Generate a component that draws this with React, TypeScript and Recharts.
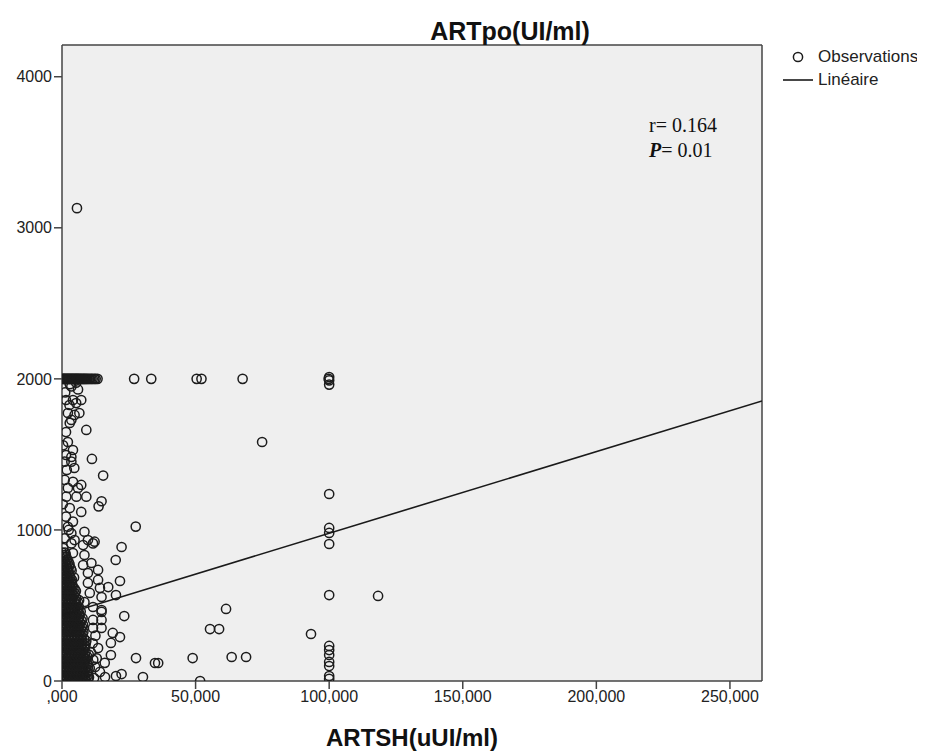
import { ScatterChart, Scatter, XAxis, YAxis, CartesianGrid, ReferenceLine } from 'recharts';

// ARTSH (uUI/ml) on x, ARTpo (UI/ml) on y
const xTicks = [0, 50, 100, 150, 200, 250];
const yTicks = [0, 1000, 2000, 3000, 4000];

// dense block of observations near the origin
const clusterPoints: [number, number][] = [
  [0, 0], [1.1, 0], [2.3, 0], [3.4, 0], [4.6, 0], [5.7, 0], [6.9, 0], [8.0, 0], [9.2, 0],
  [0.5, 25], [1.7, 25], [2.8, 25], [4.0, 25], [5.2, 25], [6.3, 25], [7.5, 25], [8.6, 25], [10.1, 25],
  [0.1, 55], [1.2, 55], [2.4, 55], [3.5, 55], [4.7, 55], [5.8, 55], [7.0, 55], [8.2, 55], [9.4, 55],
  [0.6, 85], [1.8, 85], [2.9, 85], [4.1, 85], [5.3, 85], [6.4, 85], [7.6, 85], [8.9, 85], [10.4, 85],
  [0.2, 115], [1.3, 115], [2.5, 115], [3.6, 115], [4.8, 115], [6.0, 115], [7.1, 115], [8.3, 115], [9.6, 115],
  [0.7, 145], [1.9, 145], [3.0, 145], [4.2, 145], [5.4, 145], [6.5, 145], [7.7, 145], [9.0, 145],
  [0.3, 175], [1.4, 175], [2.6, 175], [3.7, 175], [4.9, 175], [6.1, 175], [7.2, 175], [8.5, 175], [10.0, 175],
  [0.8, 205], [2.0, 205], [3.1, 205], [4.3, 205], [5.5, 205], [6.6, 205], [7.9, 205],
  [0.1, 235], [1.5, 235], [2.7, 235], [3.8, 235], [5.0, 235], [6.2, 235], [7.4, 235], [8.7, 235],
  [0.6, 265], [1.8, 265], [2.9, 265], [4.1, 265], [5.3, 265], [6.4, 265], [7.6, 265], [9.1, 265],
  [0.2, 295], [1.3, 295], [2.5, 295], [3.6, 295], [4.8, 295], [6.0, 295], [7.3, 295],
  [0.7, 325], [1.9, 325], [3.0, 325], [4.2, 325], [5.4, 325], [6.6, 325], [8.0, 325],
  [0.3, 355], [1.4, 355], [2.6, 355], [3.7, 355], [4.9, 355], [6.2, 355], [7.5, 355],
  [0.8, 385], [2.0, 385], [3.1, 385], [4.3, 385], [5.5, 385], [6.8, 385],
  [0.1, 415], [1.5, 415], [2.7, 415], [3.8, 415], [5.0, 415], [6.3, 415], [7.7, 415],
  [0.6, 445], [1.8, 445], [2.9, 445], [4.1, 445], [5.3, 445], [6.5, 445],
  [0.2, 475], [1.3, 475], [2.5, 475], [3.6, 475], [4.8, 475], [6.1, 475],
  [0.7, 505], [1.9, 505], [3.0, 505], [4.2, 505], [5.5, 505],
  [0.3, 535], [1.4, 535], [2.6, 535], [3.7, 535], [5.0, 535], [6.4, 535],
  [0.8, 565], [2.0, 565], [3.1, 565], [4.4, 565],
  [0.1, 595], [1.5, 595], [2.7, 595], [3.9, 595], [5.2, 595],
  [0.6, 625], [1.8, 625], [2.9, 625], [4.0, 625],
  [0.2, 655], [1.3, 655], [2.5, 655], [3.6, 655],
  [0.7, 685], [1.9, 685], [3.1, 685], [4.5, 685],
  [0.3, 715], [1.4, 715], [2.6, 715],
  [0.8, 745], [2.0, 745], [3.3, 745],
  [0.1, 775], [1.5, 775], [2.8, 775],
  [0.6, 805], [1.9, 805],
  [0.2, 835], [1.4, 835],
];

// more of the same block, sitting between the rows above
const clusterPointsB: [number, number][] = [
  [0.5, 12], [1.6, 12], [2.8, 12], [3.9, 12], [5.1, 12], [6.3, 12], [7.4, 12], [8.6, 12], [9.8, 12],
  [0.3, 40], [1.4, 40], [2.6, 40], [3.7, 40], [4.9, 40], [6.0, 40], [7.2, 40], [8.4, 40], [9.7, 40],
  [0.4, 70], [1.5, 70], [2.7, 70], [3.9, 70], [5.0, 70], [6.2, 70], [7.3, 70], [8.5, 70], [9.9, 70],
  [0.2, 100], [1.3, 100], [2.5, 100], [3.7, 100], [4.8, 100], [6.0, 100], [7.2, 100], [8.4, 100], [9.8, 100],
  [0.4, 130], [1.6, 130], [2.7, 130], [3.9, 130], [5.0, 130], [6.2, 130], [7.4, 130], [8.6, 130],
  [0.1, 160], [1.2, 160], [2.4, 160], [3.5, 160], [4.7, 160], [5.9, 160], [7.0, 160], [8.2, 160], [9.5, 160],
  [0.5, 190], [1.7, 190], [2.8, 190], [4.0, 190], [5.1, 190], [6.3, 190], [7.5, 190], [8.8, 190],
  [0.3, 220], [1.4, 220], [2.5, 220], [3.7, 220], [4.9, 220], [6.0, 220], [7.2, 220], [8.4, 220],
  [0.4, 250], [1.5, 250], [2.7, 250], [3.9, 250], [5.1, 250], [6.3, 250], [7.5, 250], [8.9, 250],
  [0.1, 280], [1.2, 280], [2.4, 280], [3.5, 280], [4.7, 280], [5.9, 280], [7.1, 280], [8.3, 280],
  [0.5, 310], [1.7, 310], [2.8, 310], [4.0, 310], [5.2, 310], [6.4, 310], [7.7, 310],
  [0.2, 340], [1.3, 340], [2.5, 340], [3.6, 340], [4.8, 340], [6.0, 340], [7.2, 340],
  [0.4, 370], [1.6, 370], [2.7, 370], [3.9, 370], [5.1, 370], [6.4, 370], [7.9, 370],
  [0.3, 400], [1.4, 400], [2.6, 400], [3.7, 400], [4.9, 400], [6.1, 400], [7.3, 400],
  [0.5, 430], [1.7, 430], [2.8, 430], [4.0, 430], [5.2, 430], [6.6, 430],
  [0.1, 460], [1.2, 460], [2.4, 460], [3.5, 460], [4.7, 460], [5.9, 460], [7.0, 460],
  [0.4, 490], [1.5, 490], [2.7, 490], [3.9, 490], [5.1, 490], [6.3, 490],
  [0.2, 520], [1.3, 520], [2.5, 520], [3.6, 520], [4.8, 520], [6.0, 520],
  [0.5, 550], [1.7, 550], [2.8, 550], [4.0, 550], [5.3, 550],
  [0.3, 580], [1.4, 580], [2.5, 580], [3.6, 580], [4.8, 580],
  [0.1, 610], [1.2, 610], [2.4, 610], [3.5, 610], [4.7, 610],
  [0.4, 640], [1.5, 640], [2.7, 640], [3.8, 640],
  [0.2, 670], [1.3, 670], [2.5, 670], [3.7, 670],
  [0.5, 700], [1.6, 700], [2.8, 700],
  [0.1, 730], [1.2, 730], [2.4, 730], [3.6, 730],
  [0.4, 760], [1.6, 760], [2.7, 760],
  [0.2, 790], [1.3, 790], [2.4, 790],
  [0.5, 820], [1.6, 820],
  [0.1, 850], [1.2, 850],
];

// the capped values at 2000
const row2000Points: [number, number][] = [
  [0.2, 2000], [0.5, 2000], [0.8, 2000], [1.1, 2000], [1.4, 2000], [1.7, 2000], [2.0, 2000],
  [2.3, 2000], [2.6, 2000], [2.9, 2000], [3.2, 2000], [3.5, 2000], [3.8, 2000], [4.1, 2000],
  [4.4, 2000], [4.7, 2000], [5.0, 2000], [5.3, 2000], [5.6, 2000], [5.9, 2000], [6.2, 2000],
  [6.5, 2000], [6.9, 2000], [7.2, 2000], [7.6, 2000], [8.0, 2000], [8.3, 2000], [8.7, 2000],
  [9.1, 2000], [9.5, 2000], [10.0, 2000], [10.5, 2000], [11.0, 2000], [11.5, 2000], [12.1, 2000],
  [12.6, 2000], [13.3, 2000],
  [2.9, 1965], [5.3, 1975], [3.5, 1950],
  [27.0, 2000], [33.4, 2000], [50.4, 2000], [52.2, 2000], [67.6, 2000],
  [99.8, 2000], [100, 2012], [100, 1962], [100, 1990],
];

// left column between 850 and 2000
const leftColumnPoints: [number, number][] = [
  [1.2, 1910], [6.0, 1930], [1.5, 1860], [4.1, 1860], [7.2, 1860], [2.8, 1827], [5.3, 1840],
  [2.2, 1774], [4.7, 1761], [6.5, 1774], [3.5, 1728], [2.9, 1708], [9.1, 1662], [1.5, 1648],
  [2.2, 1582], [0.4, 1560], [4.1, 1529], [11.2, 1470], [1.5, 1496], [3.5, 1483], [1.0, 1452],
  [3.5, 1452], [1.8, 1397], [4.6, 1410], [15.4, 1360], [1.0, 1331], [4.1, 1319], [7.2, 1298],
  [2.2, 1278], [6.0, 1278], [1.6, 1220], [5.4, 1220], [9.1, 1220], [14.8, 1190], [13.7, 1156],
  [0.3, 1170], [2.9, 1145], [7.2, 1119], [1.5, 1088], [4.1, 1055], [2.2, 1021], [2.5, 1000],
  [3.5, 978], [8.4, 988], [1.0, 945], [4.7, 933], [9.7, 933], [12.2, 922], [27.6, 1022],
  [3.5, 911], [7.9, 900], [11.6, 911], [0.5, 880], [4.1, 847], [8.4, 834],
];

// fringe of the block, below 900
const fringePoints: [number, number][] = [
  [22.3, 887], [20.1, 801], [7.9, 768], [11.0, 781], [13.5, 735], [9.7, 715], [13.5, 669],
  [21.7, 662], [9.7, 649], [14.2, 616], [17.3, 622], [10.4, 583], [20.2, 569], [14.8, 556],
  [8.4, 523], [11.6, 490], [14.8, 470], [14.8, 457], [23.3, 430], [11.6, 404], [14.8, 404],
  [11.6, 351], [14.8, 351], [19.0, 318], [12.5, 300], [21.7, 291], [18.3, 252], [11.5, 250],
  [13.5, 218], [10.8, 190], [18.3, 172], [13.0, 150], [11.7, 140], [27.7, 152], [16.0, 120],
  [12.4, 93], [14.2, 60], [22.3, 46], [20.2, 33], [16.1, 26], [30.3, 26], [12.0, 20],
];

// isolated observations
const spreadPoints: [number, number][] = [
  [5.6, 3130], [34.8, 119], [36.0, 119], [48.9, 152], [51.7, 0], [55.4, 344], [58.8, 344],
  [61.4, 477], [63.5, 159], [68.9, 159], [74.9, 1582], [93.2, 311], [118.3, 563],
  [100, 1238], [100, 1013], [100, 980], [100, 907], [100, 569], [100, 232], [100, 205],
  [100, 172], [100, 126], [100, 99], [100, 33], [100, 15],
];

const fitStart = [0, 437];
const fitEnd = [262, 1854];

const observations = [
  ...clusterPoints,
  ...clusterPointsB,
  ...row2000Points,
  ...leftColumnPoints,
  ...fringePoints,
  ...spreadPoints,
].map(([x, y]) => ({ x, y }));
const fitLine = [fitStart, fitEnd].map(([x, y]) => ({ x, y }));

const sans = '"Liberation Sans", Arial, sans-serif';
const serif = '"Liberation Serif", "Times New Roman", serif';

const Ring = (props: any) => (
  <circle cx={props.cx} cy={props.cy} r={4.6} fill="none" stroke="#1c1c1c" strokeWidth={1.5} />
);

const fmtX = (v: number) => (v === 0 ? ',000' : v.toFixed(3).replace('.', ','));

export default function App() {
  return (
    <div style={{ position: 'relative', width: 917, height: 743, fontFamily: sans }}>
      <ScatterChart width={917} height={743} margin={{ top: 37, right: 163, left: 0, bottom: 0 }}>
        <CartesianGrid fill="#efefef" horizontal={false} vertical={false} />
        <XAxis
          type="number"
          dataKey="x"
          domain={[0, 262]}
          ticks={xTicks}
          tickFormatter={fmtX}
          allowDataOverflow
          height={70}
          tickSize={8}
          stroke="#444"
          strokeWidth={1.5}
          tick={{ fill: '#222', fontSize: 16, fontFamily: sans }}
        />
        <YAxis
          type="number"
          dataKey="y"
          domain={[0, 4210]}
          ticks={yTicks}
          allowDataOverflow
          width={54}
          tickSize={8}
          stroke="#444"
          strokeWidth={1.5}
          tick={{ fill: '#222', fontSize: 16, fontFamily: sans }}
        />
        <ReferenceLine y={4210} stroke="#444" strokeWidth={1.5} />
        <ReferenceLine x={262} stroke="#444" strokeWidth={1.5} />
        <Scatter data={observations} shape={Ring} isAnimationActive={false} />
        <Scatter
          data={fitLine}
          shape={() => <g />}
          line={{ stroke: '#1a1a1a', strokeWidth: 1.6 }}
          isAnimationActive={false}
        />
      </ScatterChart>

      <div
        style={{
          position: 'absolute', left: 502, top: 23, transform: 'translate(-50%, -50%)',
          fontWeight: 'bold', fontSize: 25, color: '#111', whiteSpace: 'nowrap',
        }}
      >
        ARTpo(UI/ml)
      </div>
      <div
        style={{
          position: 'absolute', left: 404, top: 730, transform: 'translate(-50%, -50%)',
          fontWeight: 'bold', fontSize: 24, color: '#111', whiteSpace: 'nowrap',
        }}
      >
        ARTSH(uUI/ml)
      </div>

      <div style={{ position: 'absolute', left: 641, top: 105, fontFamily: serif, fontSize: 20, color: '#111', lineHeight: '25px' }}>
        <div>r= 0.164</div>
        <div>
          <b>
            <i>P</i>
          </b>
          = 0.01
        </div>
      </div>

      <svg style={{ position: 'absolute', left: 770, top: 38 }} width={40} height={44}>
        <circle cx={20} cy={11} r={4.6} fill="none" stroke="#1c1c1c" strokeWidth={1.5} />
        <line x1={5} y1={34} x2={35} y2={34} stroke="#1a1a1a" strokeWidth={1.6} />
      </svg>
      <div style={{ position: 'absolute', left: 810, top: 38, fontSize: 17, color: '#222', lineHeight: '22px' }}>
        Observations
      </div>
      <div style={{ position: 'absolute', left: 810, top: 61, fontSize: 17, color: '#222', lineHeight: '22px' }}>
        Linéaire
      </div>
    </div>
  );
}
